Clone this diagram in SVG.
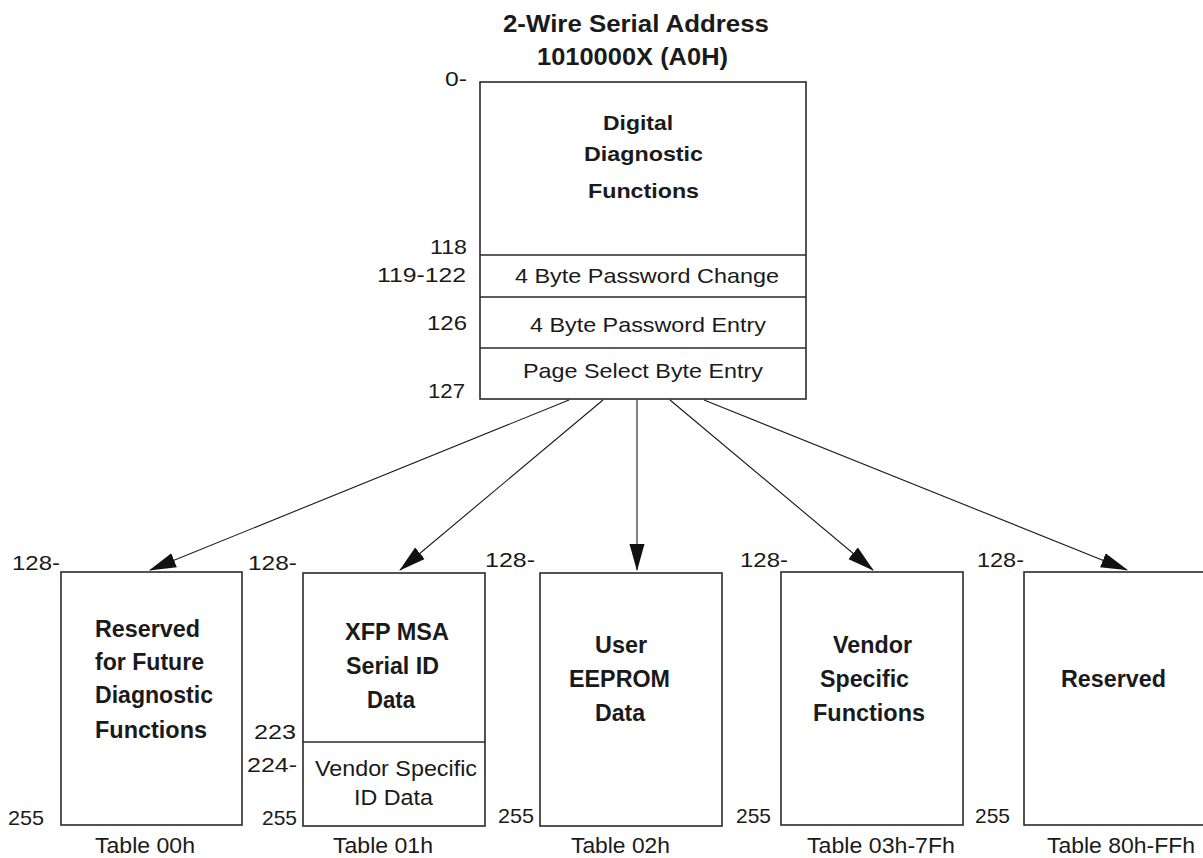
<svg xmlns="http://www.w3.org/2000/svg" width="1203" height="858" viewBox="0 0 1203 858">
<defs>
<style>
text{font-family:"Liberation Sans",Arial,sans-serif;fill:#1a1a1a;font-size:21px}
.b{font-weight:bold;font-size:21px}
.t{font-size:23px;font-weight:bold}
.n{font-size:21px}
.bb{font-weight:bold;font-size:23px}
.br{font-size:22.5px}
.box{fill:#fff;stroke:#2a2a2a;stroke-width:1.6}
.div{stroke:#2a2a2a;stroke-width:1.4}
.con{stroke:#1a1a1a;stroke-width:1.1;fill:none}
</style>
<marker id="ah" markerUnits="userSpaceOnUse" markerWidth="28" markerHeight="16" refX="26" refY="8" orient="auto">
<path d="M0,0.5 L27,8 L0,15.5 z" fill="#111"/>
</marker>
</defs>
<rect width="1203" height="858" fill="#fff"/>

<g id="title">
<text class="t" x="503" y="32" textLength="266" lengthAdjust="spacingAndGlyphs">2-Wire Serial Address</text>
<text class="t" x="537" y="65" textLength="191" lengthAdjust="spacingAndGlyphs">1010000X (A0H)</text>
</g>

<g id="a0-page">
<rect class="box" x="480" y="82" width="326" height="317"/>
<line class="div" x1="480" y1="255" x2="806" y2="255"/>
<line class="div" x1="480" y1="297" x2="806" y2="297"/>
<line class="div" x1="480" y1="348" x2="806" y2="348"/>
<text class="b" x="603" y="130" textLength="70" lengthAdjust="spacingAndGlyphs">Digital</text>
<text class="b" x="584" y="161" textLength="119" lengthAdjust="spacingAndGlyphs">Diagnostic</text>
<text class="b" x="588" y="198" textLength="111" lengthAdjust="spacingAndGlyphs">Functions</text>
<text x="515" y="283" textLength="264" lengthAdjust="spacingAndGlyphs">4 Byte Password Change</text>
<text x="530" y="332" textLength="236" lengthAdjust="spacingAndGlyphs">4 Byte Password Entry</text>
<text x="523" y="378" textLength="240" lengthAdjust="spacingAndGlyphs">Page Select Byte Entry</text>
<text class="n" x="445" y="86" textLength="22" lengthAdjust="spacingAndGlyphs">0-</text>
<text class="n" x="430" y="254" textLength="37" lengthAdjust="spacingAndGlyphs">118</text>
<text class="n" x="377" y="282" textLength="89" lengthAdjust="spacingAndGlyphs">119-122</text>
<text class="n" x="427" y="330" textLength="40" lengthAdjust="spacingAndGlyphs">126</text>
<text class="n" x="428" y="398" textLength="37" lengthAdjust="spacingAndGlyphs">127</text>
</g>

<g id="connectors">
<line class="con" x1="569" y1="400" x2="150" y2="570" marker-end="url(#ah)"/>
<line class="con" x1="603" y1="400" x2="400" y2="570" marker-end="url(#ah)"/>
<line class="con" x1="637" y1="400" x2="637" y2="570" marker-end="url(#ah)"/>
<line class="con" x1="670" y1="400" x2="873" y2="570" marker-end="url(#ah)"/>
<line class="con" x1="704" y1="400" x2="1127" y2="570" marker-end="url(#ah)"/>
</g>

<g id="table-00h">
<rect class="box" x="61" y="572" width="181" height="253"/>
<text class="n" x="12" y="570" textLength="48" lengthAdjust="spacingAndGlyphs">128-</text>
<text class="n" x="8" y="825" textLength="36" lengthAdjust="spacingAndGlyphs">255</text>
<text class="bb" x="95" y="637" textLength="105" lengthAdjust="spacingAndGlyphs">Reserved</text>
<text class="bb" x="95" y="670" textLength="109" lengthAdjust="spacingAndGlyphs">for Future</text>
<text class="bb" x="95" y="703" textLength="118" lengthAdjust="spacingAndGlyphs">Diagnostic</text>
<text class="bb" x="95" y="738" textLength="112" lengthAdjust="spacingAndGlyphs">Functions</text>
<text class="br" x="95" y="853" textLength="100" lengthAdjust="spacingAndGlyphs">Table 00h</text>
</g>

<g id="table-01h">
<rect class="box" x="303" y="573" width="182" height="253"/>
<line class="div" x1="303" y1="742" x2="485" y2="742"/>
<text class="n" x="248" y="570" textLength="49" lengthAdjust="spacingAndGlyphs">128-</text>
<text class="bb" x="345" y="640" textLength="104" lengthAdjust="spacingAndGlyphs">XFP MSA</text>
<text class="bb" x="346" y="674" textLength="93" lengthAdjust="spacingAndGlyphs">Serial ID</text>
<text class="bb" x="367" y="708" textLength="48" lengthAdjust="spacingAndGlyphs">Data</text>
<text class="n" x="254" y="739" textLength="42" lengthAdjust="spacingAndGlyphs">223</text>
<text class="n" x="247" y="772" textLength="50" lengthAdjust="spacingAndGlyphs">224-</text>
<text class="br" x="315" y="776" textLength="162" lengthAdjust="spacingAndGlyphs">Vendor Specific</text>
<text class="br" x="354" y="805" textLength="79" lengthAdjust="spacingAndGlyphs">ID Data</text>
<text class="n" x="262" y="825" textLength="35" lengthAdjust="spacingAndGlyphs">255</text>
<text class="br" x="333" y="853" textLength="100" lengthAdjust="spacingAndGlyphs">Table 01h</text>
</g>

<g id="table-02h">
<rect class="box" x="540" y="573" width="182" height="253"/>
<text class="n" x="485" y="567" textLength="50" lengthAdjust="spacingAndGlyphs">128-</text>
<text class="bb" x="595" y="653" textLength="52" lengthAdjust="spacingAndGlyphs">User</text>
<text class="bb" x="569" y="687" textLength="101" lengthAdjust="spacingAndGlyphs">EEPROM</text>
<text class="bb" x="595" y="721" textLength="50" lengthAdjust="spacingAndGlyphs">Data</text>
<text class="n" x="498" y="823" textLength="36" lengthAdjust="spacingAndGlyphs">255</text>
<text class="br" x="571" y="853" textLength="99" lengthAdjust="spacingAndGlyphs">Table 02h</text>
</g>

<g id="table-03h-7fh">
<rect class="box" x="781" y="572" width="182" height="253"/>
<text class="n" x="740" y="567" textLength="48" lengthAdjust="spacingAndGlyphs">128-</text>
<text class="bb" x="833" y="653" textLength="79" lengthAdjust="spacingAndGlyphs">Vendor</text>
<text class="bb" x="820" y="687" textLength="89" lengthAdjust="spacingAndGlyphs">Specific</text>
<text class="bb" x="813" y="721" textLength="112" lengthAdjust="spacingAndGlyphs">Functions</text>
<text class="n" x="736" y="823" textLength="35" lengthAdjust="spacingAndGlyphs">255</text>
<text class="br" x="807" y="853" textLength="148" lengthAdjust="spacingAndGlyphs">Table 03h-7Fh</text>
</g>

<g id="table-80h-ffh">
<rect class="box" x="1024" y="572" width="200" height="253"/>
<text class="n" x="977" y="567" textLength="47" lengthAdjust="spacingAndGlyphs">128-</text>
<text class="bb" x="1061" y="687" textLength="105" lengthAdjust="spacingAndGlyphs">Reserved</text>
<text class="n" x="975" y="823" textLength="35" lengthAdjust="spacingAndGlyphs">255</text>
<text class="br" x="1047" y="853" textLength="148" lengthAdjust="spacingAndGlyphs">Table 80h-FFh</text>
</g>
</svg>
